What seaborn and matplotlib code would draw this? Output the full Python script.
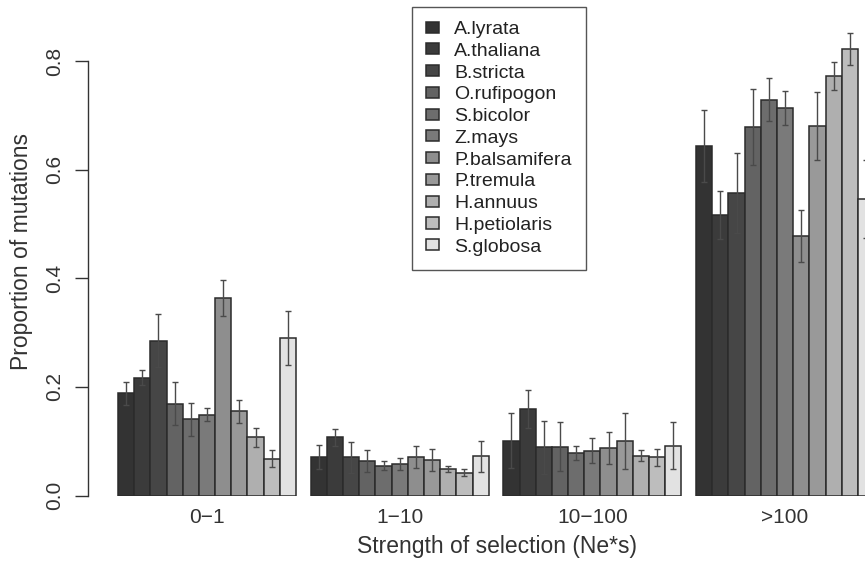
import numpy as np
import pandas as pd
import matplotlib
matplotlib.use("Agg")
import matplotlib.pyplot as plt
import seaborn as sns

sns.set_style("white")
plt.rcParams["font.family"] = ["Liberation Sans", "DejaVu Sans"]

# categories (strength of selection) and species
groups = ["0\u22121", "1\u221210", "10\u2212100", ">100"]
species = ["A.lyrata", "A.thaliana", "B.stricta", "O.rufipogon", "S.bicolor",
           "Z.mays", "P.balsamifera", "P.tremula", "H.annuus", "H.petiolaris",
           "S.globosa"]

# proportions, one list per selection class (species order)
prop_0_1 = [0.188, 0.217, 0.285, 0.169, 0.140, 0.149, 0.364, 0.155, 0.107, 0.068, 0.290]
prop_1_10 = [0.071, 0.107, 0.070, 0.064, 0.055, 0.058, 0.071, 0.066, 0.049, 0.042, 0.072]
prop_10_100 = [0.101, 0.160, 0.089, 0.090, 0.078, 0.082, 0.087, 0.100, 0.073, 0.070, 0.092]
prop_100 = [0.643, 0.517, 0.557, 0.678, 0.729, 0.713, 0.478, 0.680, 0.772, 0.822, 0.546]

# half-widths of the error bars
err_0_1 = [0.021, 0.014, 0.049, 0.040, 0.030, 0.012, 0.033, 0.021, 0.018, 0.015, 0.049]
err_1_10 = [0.022, 0.016, 0.029, 0.020, 0.008, 0.011, 0.021, 0.020, 0.005, 0.007, 0.028]
err_10_100 = [0.050, 0.035, 0.049, 0.045, 0.013, 0.023, 0.029, 0.052, 0.010, 0.015, 0.044]
err_100 = [0.066, 0.044, 0.074, 0.070, 0.040, 0.031, 0.048, 0.063, 0.026, 0.029, 0.072]

grays = ["#333333", "#3b3b3b", "#464646", "#636363", "#6d6d6d", "#7a7a7a",
         "#8e8e8e", "#999999", "#afafaf", "#bdbdbd", "#e2e2e2"]

props = [prop_0_1, prop_1_10, prop_10_100, prop_100]
errs = [err_0_1, err_1_10, err_10_100, err_100]

rows = []
for g, vals, ee in zip(groups, props, errs):
    for sp, v, e in zip(species, vals, ee):
        rows.append({"selection": g, "species": sp, "prop": v, "err": e})
df = pd.DataFrame(rows)

fig = plt.figure(figsize=(8.65, 5.64), dpi=100)
W, H = 865, 564
ax_left, ax_right = 88, 866
ax_bottom, ax_top = 495.5, 20   # pixels from top
ax = fig.add_axes([ax_left / W, 1 - ax_bottom / H,
                   (ax_right - ax_left) / W, (ax_bottom - ax_top) / H])

width = 11 / 11.91
sns.barplot(data=df, x="selection", y="prop", hue="species",
            order=groups, hue_order=species, palette=grays, saturation=1,
            width=width, errorbar=None, edgecolor="#2b2b2b", linewidth=1.1,
            ax=ax)

# error bars on each bar
for cont, sp in zip(ax.containers, species):
    sub = df[df["species"] == sp].set_index("selection").loc[groups]
    xs = [b.get_x() + b.get_width() / 2 for b in cont]
    ax.errorbar(xs, sub["prop"].values, yerr=sub["err"].values, fmt="none",
                ecolor="#4a4a4a", elinewidth=1.0, capsize=2.3, capthick=1.0,
                zorder=5)

px_per_unit = (ax_bottom - 61) / 0.8
ax.set_ylim(0, (ax_bottom - ax_top) / px_per_unit)
bar_px = 16.18
unit_px = bar_px / (width / 11)
left_edge = -width / 2
ax.set_xlim(left_edge - (118 - ax_left) / unit_px,
            left_edge + (ax_right - 118) / unit_px)

for s in ["top", "right", "bottom"]:
    ax.spines[s].set_visible(False)
ax.spines["left"].set_bounds(0, 0.8)
ax.spines["left"].set_color("#333333")
ax.spines["left"].set_linewidth(1.0)

ax.set_yticks([0.0, 0.2, 0.4, 0.6, 0.8])
ax.set_yticklabels(["0.0", "0.2", "0.4", "0.6", "0.8"], rotation=90,
                   va="center", fontsize=15, color="#333333")
ax.tick_params(axis="y", length=9.5, width=1.0, color="#333333", pad=8,
               left=True, direction="out")
ax.set_xticks(range(len(groups)))
ax.set_xticklabels(groups, fontsize=15, color="#333333")
ax.tick_params(axis="x", length=0, pad=9)

ax.set_xlabel("Strength of selection (Ne*s)", fontsize=16.5, color="#333333")
ax.xaxis.set_label_coords((497 - ax_left) / (ax_right - ax_left),
                          (H - 547 - (H - ax_bottom)) / (ax_bottom - ax_top))
ax.xaxis.label.set_va("center")
ax.set_ylabel("Proportion of mutations", fontsize=16.5, color="#333333")
ax.yaxis.set_label_coords((22 - ax_left) / (ax_right - ax_left),
                          (H - 251.5 - (H - ax_bottom)) / (ax_bottom - ax_top))
ax.yaxis.label.set_va("center")

handles, labels = ax.get_legend_handles_labels()
leg = ax.legend(handles, labels, loc="upper left",
                bbox_to_anchor=(412 / W, 1 - 7 / H),
                bbox_transform=fig.transFigure, borderaxespad=0,
                fontsize=14, frameon=True, fancybox=False, framealpha=1,
                handlelength=0.65, handleheight=0.5, handletextpad=0.8,
                labelspacing=0.245, borderpad=0.72)
leg.get_frame().set_edgecolor("#555555")
leg.get_frame().set_linewidth(1.0)
for t in leg.get_texts():
    t.set_color("#222222")

fig.savefig("out.png", dpi=100)
